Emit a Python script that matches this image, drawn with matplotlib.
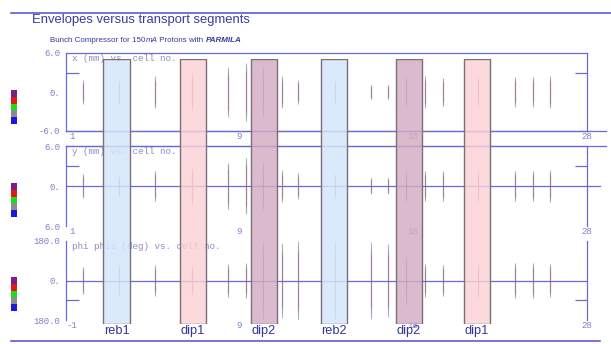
import numpy as np
import matplotlib
matplotlib.use("Agg")
import matplotlib.pyplot as plt
from matplotlib.lines import Line2D
from matplotlib.colors import to_rgba

# ---------------- data ----------------
TITLE = "Envelopes versus transport segments"
SUB_PARTS = [("Bunch Compressor for 150", "normal", "normal"),
             ("mA", "italic", "normal"),
             (" Protons with ", "normal", "normal"),
             ("PARMILA", "italic", "bold")]

# irregular cell-number axis: cell no. -> relative axis position
CELL_KNOTS = [-5, 1, 9, 18, 28, 40]
AXIS_KNOTS = [-125.25, 0, 167, 341, 516, 726]
X_LIMITS = (0.713, 27.94)

SEG_NAMES = ["reb1", "dip1", "dip2", "reb2", "dip2", "dip1"]
SEG_START = [2.49, 6.17, 9.62, 13.24, 17.12, 20.91]
SEG_END = [3.78, 7.42, 10.97, 14.59, 18.51, 22.40]

MARK_CELLS = [1.53, 3.25, 4.98, 6.75, 8.47, 9.36, 10.24, 11.22, 12.10, 13.97,
              15.88, 16.76, 17.69, 18.74, 19.77, 21.77, 23.89, 24.91, 25.89]
X_ENV = [1.77, 1.85, 2.5, 2.85, 3.77, 4.46, 3.77, 2.5, 1.77, 1.77,
         1.15, 1.15, 2.3, 2.4, 2.2, 2.3, 2.3, 2.3, 2.4]
Y_ENV = [1.8, 1.5, 2.3, 2.7, 3.5, 4.2, 3.6, 2.4, 1.9, 1.8,
         1.2, 1.2, 2.3, 2.3, 2.2, 2.3, 2.3, 2.3, 2.4]
PHI_ENV = [63, 72, 70, 68, 75, 79, 178, 170, 180, 178,
           175, 165, 110, 77, 72, 77, 82, 80, 77]

PANEL_TITLES = ["x (mm) vs. cell no.", "y (mm) vs. cell no.", "phi phis (deg) vs. cell no."]
PANEL_YLIM = [(-6, 6), (-6, 6), (-180, 180)]
PANEL_YTICKS = [[-6, 0, 6], [-6, 0, 6], [-180, 0, 180]]
PANEL_YLABELS = [["-6.0", "0.", "6.0"], ["6.0", "0.", "6.0"], ["180.0", "0.", "180.0"]]
PANEL_YMINOR = [[3], [3], [-90]]
X_TICKS = [1, 9, 18, 28]
PANEL_XLABELS = [["1", "9", "18", "28"], ["1", "9", "18", "28"], ["-1", "9", "18", "28"]]
PANEL_ENV = [X_ENV, Y_ENV, PHI_ENV]

STRIP_COLORS = ["#7a1f86", "#e01818", "#18e018", "#8c8c8c", "#1818e0"]  # top -> bottom

# ---------------- style ----------------
W, H = 611, 344
LINE = "#6a6ad6"
TXT = "#8080cc"
DARK = "#34349a"
SEG_FACE = {"reb": "#d4e6fb", "dip1": "#fcd1d5", "dip2": "#d5abc2"}
SEG_EDGE = "#7a6e78"
MONO = ["Liberation Mono", "DejaVu Sans Mono"]
NARROW = ["Liberation Sans Narrow", "Liberation Sans", "DejaVu Sans"]

fig = plt.figure(figsize=(W / 100, H / 100), dpi=100)
fig.patch.set_facecolor("white")


def fx(p):
    return p / W


def fy(p):
    return 1 - p / H


def add_px_axes(left, top, right, bottom):
    return fig.add_axes([fx(left), fy(bottom), (right - left) / W, (bottom - top) / H])


def fwd(x):
    return np.interp(x, CELL_KNOTS, AXIS_KNOTS)


def inv(p):
    return np.interp(p, AXIS_KNOTS, CELL_KNOTS)


# panel layout (pixels)
PANEL_BOX = [(66, 53, 587, 131), (66, 146, 587, 226), (66, 241, 587, 320)]
SPINES = [dict(left=True, top=True, right=True, bottom=True),
          dict(left=True, top=True, right=True, bottom=False),
          dict(left=True, top=False, right=True, bottom=False)]

layer_frac = [1.0, 0.95, 0.88, 0.8, 0.7]
layer_col = ["#4a5ae0", "#a0a0a0", "#50c850", "#e86060", "#9a50b0"]
layer_alpha = [0.45, 0.3, 0.3, 0.35, 0.4]

axes = []
for i, (l, t, r, b) in enumerate(PANEL_BOX):
    ax = add_px_axes(l, t, r, b)
    ax.set_xscale("function", functions=(fwd, inv))
    ax.set_xlim(*X_LIMITS)
    ax.set_ylim(*PANEL_YLIM[i])
    ax.patch.set_alpha(0)
    for side, vis in SPINES[i].items():
        ax.spines[side].set_visible(vis)
        ax.spines[side].set_color(LINE)
        ax.spines[side].set_linewidth(0.9)
    ax.set_xticks(X_TICKS)
    ax.set_xticklabels(PANEL_XLABELS[i])
    ax.set_xticks([9, 18], minor=True)
    ax.tick_params(axis="x", which="major", length=0, pad=1, labelsize=6.5,
                   labelcolor=TXT, labelfontfamily=MONO)
    ax.tick_params(axis="x", which="minor", length=4, direction="in",
                   top=True, bottom=True, color=LINE, width=0.8)
    ax.set_yticks(PANEL_YTICKS[i])
    ax.set_yticklabels(PANEL_YLABELS[i])
    ax.set_yticks(PANEL_YMINOR[i], minor=True)
    ax.tick_params(axis="y", which="major", length=0, pad=4, labelsize=6.5,
                   labelcolor=TXT, labelfontfamily=MONO)
    ax.tick_params(axis="y", which="minor", length=9, direction="in",
                   left=True, right=True, color=LINE, width=0.9)
    ax.text(0.012, 0.985, PANEL_TITLES[i], transform=ax.transAxes, ha="left", va="top",
            fontsize=6.7, color="#8c8cc4", family=MONO)
    env = np.array(PANEL_ENV[i], dtype=float)
    for frac, col, a in zip(layer_frac, layer_col, layer_alpha):
        ax.vlines(MARK_CELLS, -env * frac, env * frac, colors=col, alpha=a, linewidth=0.8)
    axes.append(ax)

# zero lines and extended frame lines
axes[1].axhline(0, xmin=0, xmax=(600 - 66) / 521, color=LINE, lw=0.9, clip_on=False)
axes[2].axhline(0, color=LINE, lw=0.9)
axes[0].axhline(-6, xmin=0, xmax=(606 - 66) / 521, color=LINE, lw=0.9, clip_on=False)
axes[1].axhline(6, xmin=0, xmax=(606 - 66) / 521, color=LINE, lw=0.9, clip_on=False)

# overlay with transport segments
ov = add_px_axes(66, 59, 587, 324)
ov.set_xscale("function", functions=(fwd, inv))
ov.set_xlim(*X_LIMITS)
ov.set_ylim(0, 1)
ov.axis("off")
ov.patch.set_alpha(0)
for name, s, e in zip(SEG_NAMES, SEG_START, SEG_END):
    key = "reb" if name.startswith("reb") else name
    ov.bar(s, 1, width=e - s, bottom=0, align="edge",
           facecolor=to_rgba(SEG_FACE[key], 0.82), edgecolor=SEG_EDGE, linewidth=1.0)
    cx = inv((fwd(s) + fwd(e)) / 2)
    ov.text(cx, -0.028, name, ha="center", va="center", fontsize=9.2,
            color=DARK, family=NARROW, clip_on=False)

# colour strips on the left
STRIP_BOX = [(11, 90, 17, 124), (11, 183, 17, 217), (11, 277, 17, 311)]
for (l, t, r, b) in STRIP_BOX:
    sa = add_px_axes(l, t, r, b)
    n = len(STRIP_COLORS)
    sa.bar([0] * n, [1] * n, bottom=np.arange(n)[::-1], width=1, color=STRIP_COLORS)
    sa.set_ylim(0, n)
    sa.set_xlim(-0.5, 0.5)
    sa.axis("off")

# frame lines of the slide
fig.add_artist(Line2D([fx(11), 1.0], [fy(13), fy(13)], color="#5050c8", lw=1.1))
fig.add_artist(Line2D([fx(11), fx(600)], [fy(341), fy(341)], color="#5050c8", lw=1.1))

# title and subtitle
fig.text(fx(32), fy(20.5), TITLE, ha="left", va="center", fontsize=9.4,
         color="#3a3aa0", family=NARROW)
x = fx(50)
r = fig.canvas.get_renderer()
for txt, style, weight in SUB_PARTS:
    t = fig.text(x, fy(40), txt, ha="left", va="center", fontsize=5.8, color="#3a3aa0",
                 family=NARROW, style=style, weight=weight)
    bb = t.get_window_extent(renderer=r)
    x += bb.width / W

fig.savefig("out.png", dpi=100, facecolor="white")
